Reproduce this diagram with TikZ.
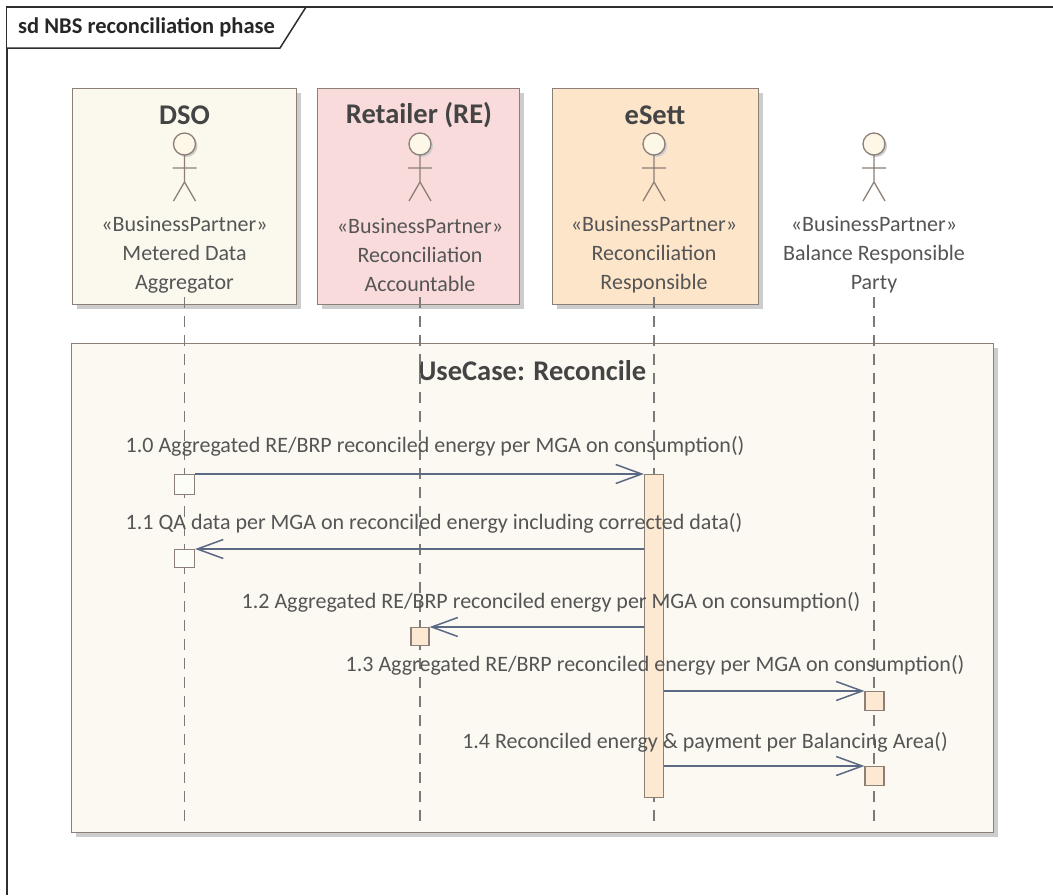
\documentclass[tikz,border=0pt]{standalone}
\usepackage{fontspec}
\setmainfont{Carlito}
\usetikzlibrary{arrows.meta,shadows}
\definecolor{framec}{HTML}{2E2E2E}
\definecolor{boxline}{HTML}{8C7F78}
\definecolor{dsofill}{HTML}{FBF9EE}
\definecolor{retfill}{HTML}{FADBDB}
\definecolor{esfill}{HTML}{FDE5CA}
\definecolor{ucfill}{HTML}{FBF9F1}
\definecolor{actfill}{HTML}{FDE8D2}
\definecolor{txtc}{HTML}{555555}
\definecolor{boldc}{HTML}{444444}
\definecolor{arrowc}{HTML}{5B6985}
\definecolor{lifec}{HTML}{7A7A7A}
\definecolor{shadc}{HTML}{CDCDCD}
\definecolor{headfill}{HTML}{FDF7E8}
\tikzset{
  shad/.style={drop shadow={shadow xshift=4pt,shadow yshift=-4pt,fill=shadc,opacity=1}},
  actorbox/.style={draw=boxline,line width=1.3pt,anchor=north west,inner sep=0pt,shad},
  ucbox/.style={draw=boxline,line width=1.3pt,fill=ucfill,anchor=north west,inner sep=0pt,shad},
  actbar/.style={draw=boxline,line width=1.2pt,anchor=north,inner sep=0pt},
  nametxt/.style={font=\fontsize{28.5}{31}\selectfont\bfseries,text=boldc,inner sep=0pt},
  roletxt/.style={font=\fontsize{22}{29}\selectfont,text=txtc,align=center,inner sep=0pt},
  msgtxt/.style={font=\fontsize{22}{26}\selectfont,text=txtc,inner sep=0pt},
  msg/.style={draw=arrowc,line width=1.5pt,-{Straight Barb[length=26pt,width=19pt]}},
  lifeline/.style={draw=lifec,line width=1.3pt,dash pattern=on 11pt off 8pt},
  actorfig/.pic={
    \fill[shadc] (2,2) circle[radius=11];
    \draw[boxline,line width=1.3pt,fill=headfill] (0,0) circle[radius=11];
    \draw[boxline,line width=1.3pt] (0,11) -- (0,38) (-12,24) -- (12,24) (-11,57) -- (0,38) -- (11,57);
  }
}
\begin{document}
\begin{tikzpicture}[x=1pt,y=-1pt]
\useasboundingbox (0,0) rectangle (1053,895);
\fill[white] (0,0) rectangle (1053,895);
% frame
\draw[framec,line width=2pt] (1053,7) -- (7,7) -- (7,895);
\draw[framec,line width=1.5pt,fill=white] (7,7) -- (306,7) -- (280,48) -- (7,48);
\node[font=\fontsize{22.5}{26}\selectfont\bfseries,text=black!85,anchor=west,inner sep=0pt] (title) at (18,27) {sd NBS reconciliation phase};
% actor boxes
\node[actorbox,fill=dsofill,minimum width=224pt,minimum height=216pt] (dsobox) at (72,88) {};
\node[actorbox,fill=retfill,minimum width=202pt,minimum height=216pt] (retbox) at (317,88) {};
\node[actorbox,fill=esfill,minimum width=206pt,minimum height=216pt] (esbox) at (552,88) {};
% use case box
\node[ucbox,minimum width=922pt,minimum height=489pt] (ucbox) at (71,343) {};
\node[nametxt] (uclabel) at (532,371) {UseCase: Reconcile};
% names
\node[nametxt] (dsoname) at (184.5,115) {DSO};
\node[nametxt] (retname) at (419,115) {Retailer (RE)};
\node[nametxt] (esname) at (655,115) {eSett};
% actor figures
\pic (dsofig) at (184.5,144) {actorfig};
\pic (retfig) at (420,144) {actorfig};
\pic (esfig) at (654,144) {actorfig};
\pic (brpfig) at (874,144) {actorfig};
% roles
\node[roletxt] (dsorole) at (184.5,255) {«BusinessPartner»\\Metered Data\\Aggregator};
\node[roletxt] (retrole) at (420,255) {«BusinessPartner»\\Reconciliation\\Accountable};
\node[roletxt] (esrole) at (654,255) {«BusinessPartner»\\Reconciliation\\Responsible};
\node[roletxt] (brprole) at (874,255) {«BusinessPartner»\\Balance Responsible\\Party};
% lifelines
\coordinate (dsotop) at (184.5,297); \coordinate (dsobot) at (184.5,825);
\coordinate (rettop) at (420,297); \coordinate (retbot) at (420,825);
\coordinate (estop) at (654,297); \coordinate (esbot) at (654,825);
\coordinate (brptop) at (874,297); \coordinate (brpbot) at (874,825);
\draw[lifeline] (dsotop) -- (dsobot);
\draw[lifeline] (rettop) -- (retbot);
\draw[lifeline] (estop) -- (esbot);
\draw[lifeline] (brptop) -- (brpbot);
% activations
\node[actbar,fill=actfill,minimum width=19pt,minimum height=323pt] (esact) at (654,474) {};
\node[actbar,fill=white!60!dsofill,minimum width=20pt,minimum height=20pt] (dsoact1) at (184.5,474) {};
\node[actbar,fill=white!60!dsofill,minimum width=20pt,minimum height=18pt] (dsoact2) at (184.5,549) {};
\node[actbar,fill=actfill,minimum width=18pt,minimum height=18pt] (retact) at (420,627) {};
\node[actbar,fill=actfill,minimum width=19pt,minimum height=19pt] (brpact1) at (874.5,691) {};
\node[actbar,fill=actfill,minimum width=19pt,minimum height=19pt] (brpact2) at (874.5,766) {};
% messages
\draw[msg] (dsoact1.north east) -- (esact.north west);
\node[msgtxt] (m10) at (435,446) {1.0 Aggregated RE/BRP reconciled energy per MGA on consumption()};
\draw[msg] (dsoact2.north east -| esact.west) -- (dsoact2.north east);
\node[msgtxt] (m11) at (434,523) {1.1 QA data per MGA on reconciled energy including corrected data()};
\draw[msg] (retact.north east -| esact.west) -- (retact.north east);
\node[msgtxt] (m12) at (551,602) {1.2 Aggregated RE/BRP reconciled energy per MGA on consumption()};
\draw[msg] (brpact1.north west -| esact.east) -- (brpact1.north west);
\node[msgtxt] (m13) at (655,665) {1.3 Aggregated RE/BRP reconciled energy per MGA on consumption()};
\draw[msg] (brpact2.north west -| esact.east) -- (brpact2.north west);
\node[msgtxt] (m14) at (705,742) {1.4 Reconciled energy \& payment per Balancing Area()};
\end{tikzpicture}
\end{document}
